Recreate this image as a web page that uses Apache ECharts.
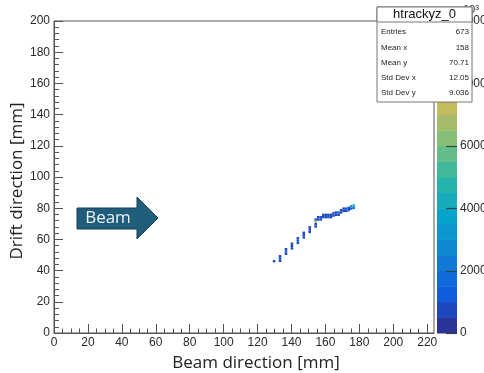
<!DOCTYPE html>
<html>
<head>
<meta charset="utf-8">
<script src="https://cdn.jsdelivr.net/npm/echarts@6/dist/echarts.min.js"></script>
<style>
  html, body { margin: 0; padding: 0; background: #ffffff; }
  #chart { width: 484px; height: 373px; }
</style>
</head>
<body>
<div id="chart"></div>
<script>
// Filled bins of htrackyz_0: bin centre along the beam (mm), along the drift (mm), bin content
const cellBeam = [
  129.75,
  133.25, 133.25, 133.25,
  136.75, 136.75, 136.75,
  140.25, 140.25, 140.25,
  143.75, 143.75, 143.75,
  147.25, 147.25, 147.25,
  150.75, 150.75, 150.75,
  154.25, 154.25, 154.25, 154.25,
  155.75, 155.75, 157.25, 157.25,
  158.75, 158.75, 160.25, 160.25, 161.75, 161.75, 163.25, 163.25, 164.75, 164.75,
  166.25, 166.25, 167.75, 167.75,
  169.25, 169.25, 170.75, 170.75, 172.25, 172.25, 173.75, 173.75,
  175.25, 175.25, 176.75, 176.75
];
const cellDrift = [
  46.0,
  46.25, 47.75, 49.25,
  50.75, 52.25, 53.75,
  54.25, 55.75, 57.25,
  57.75, 59.25, 60.75,
  61.25, 62.75, 64.25,
  64.75, 66.25, 67.75,
  68.25, 69.75, 71.25, 72.75,
  72.75, 74.25, 72.75, 74.25,
  74.25, 75.75, 74.25, 75.75, 74.25, 75.75, 74.25, 75.75, 75.25, 76.75,
  75.75, 77.25, 75.75, 77.25,
  77.25, 78.75, 78.25, 79.75, 78.25, 79.75, 78.75, 80.25,
  79.75, 81.25, 80.25, 81.75
];
const cellCount = [
  900,
  800, 900, 800,
  900, 1000, 800,
  800, 900, 900,
  900, 1000, 800,
  800, 900, 900,
  900, 800, 900,
  800, 900, 7400, 1200,
  900, 800, 900, 1000,
  800, 900, 900, 800, 1000, 900, 800, 900, 900, 800,
  900, 800, 900, 1000,
  800, 900, 900, 800, 900, 1000, 1100, 900,
  1400, 2600, 2200, 4300
];
const BIN_W = 1.5;
const BIN_H = 1.5;

// Axis ticks
const xMajor = [0, 20, 40, 60, 80, 100, 120, 140, 160, 180, 200, 220];
const yMajor = [0, 20, 40, 60, 80, 100, 120, 140, 160, 180, 200];
const zMajor = [0, 2000, 4000, 6000, 8000, 10000];
const X_MAX = 224, Y_MAX = 200, Z_MAX = 10000, N_CONTOURS = 20;

// Statistics box
const statTitle = 'htrackyz_0';
const statNames = ['Entries', 'Mean x', 'Mean y', 'Std Dev x', 'Std Dev y'];
const statValues = ['673', '158', '70.71', '12.05', '9.036'];

// minor ticks on the beam axis: 4 per major interval
const xMinor = [];
for (let i = 0; i < xMajor.length; i++) {
  for (let k = 1; k < 4; k++) {
    const v = xMajor[i] + k * 5;
    if (v < X_MAX) xMinor.push(v);
  }
}

// kBird colour table, banded into contour levels
const birdStops = [0, 0.125, 0.25, 0.375, 0.5, 0.625, 0.75, 0.875, 1];
const birdR = [0.2082, 0.0592, 0.0780, 0.0232, 0.1802, 0.5301, 0.8186, 0.9956, 0.9764];
const birdG = [0.1664, 0.3599, 0.5041, 0.6419, 0.7178, 0.7492, 0.7328, 0.7862, 0.9832];
const birdB = [0.5293, 0.8684, 0.8385, 0.7914, 0.6425, 0.4662, 0.3499, 0.1968, 0.0539];
function birdColor(t) {
  t = Math.max(0, Math.min(1, t));
  let i = 0;
  while (i < birdStops.length - 2 && t > birdStops[i + 1]) i++;
  const f = (t - birdStops[i]) / (birdStops[i + 1] - birdStops[i]);
  const c = (a) => Math.round(255 * (a[i] + (a[i + 1] - a[i]) * f));
  return 'rgb(' + c(birdR) + ',' + c(birdG) + ',' + c(birdB) + ')';
}
const bandSize = Z_MAX / N_CONTOURS;
function levelColor(v) {
  const band = Math.min(N_CONTOURS - 1, Math.floor(v / bandSize));
  return birdColor((band + 0.5) / N_CONTOURS);
}
const paletteLevels = [];
for (let i = 0; i < N_CONTOURS; i++) paletteLevels.push([i * bandSize, (i + 1) * bandSize]);

const cells = cellBeam.map((x, i) => [x, cellDrift[i], cellCount[i]]);

const tickFont = 'Liberation Sans, Arial, sans-serif';
const titleFont = 'Open Sans, sans-serif';
const ink = '#2a2a2a';

const chart = echarts.init(document.getElementById('chart'), null, { renderer: 'canvas' });

// statistics box elements
const STAT_Z = 200;
const statChildren = [
  { type: 'rect', z: STAT_Z, shape: { x: 0, y: 0, width: 95, height: 95 },
    style: { fill: '#ffffff', stroke: '#777', lineWidth: 1 } },
  { type: 'rect', z: STAT_Z + 1, shape: { x: 0, y: 0, width: 95, height: 15 },
    style: { fill: '#ffffff', stroke: '#777', lineWidth: 1 } },
  { type: 'text', z: STAT_Z + 2, x: 47.5, y: 7.5,
    style: { text: statTitle, font: '13px ' + tickFont, fill: '#111', align: 'center', verticalAlign: 'middle' } }
];
statNames.forEach((name, i) => {
  const yy = 25 + i * 15.3;
  statChildren.push({ type: 'text', z: STAT_Z + 2, x: 4, y: yy,
    style: { text: name, font: '8px ' + tickFont, fill: '#222', align: 'left', verticalAlign: 'middle' } });
  statChildren.push({ type: 'text', z: STAT_Z + 2, x: 92, y: yy,
    style: { text: statValues[i], font: '8px ' + tickFont, fill: '#222', align: 'right', verticalAlign: 'middle' } });
});

const option = {
  backgroundColor: '#ffffff',
  animation: false,
  grid: [
    { left: 54, top: 21, width: 380, height: 312, show: true, borderColor: '#555', borderWidth: 1,
      backgroundColor: 'transparent', outerBoundsMode: 'none', containLabel: false },
    { left: 437, top: 21, width: 20, height: 312, show: false, outerBoundsMode: 'none', containLabel: false }
  ],
  xAxis: [
    {
      gridIndex: 0, type: 'value', min: 0, max: X_MAX, position: 'bottom',
      axisLine: { show: true, lineStyle: { color: '#555', width: 1 } },
      axisTick: { show: true, inside: true, length: 9, customValues: xMajor, lineStyle: { color: '#555' } },
      axisLabel: { show: true, customValues: xMajor, margin: 4, fontSize: 12, color: ink, fontFamily: tickFont },
      splitLine: { show: false }
    },
    {
      gridIndex: 0, type: 'value', min: 0, max: X_MAX, position: 'bottom',
      axisLine: { show: false },
      axisTick: { show: true, inside: true, length: 4.5, customValues: xMinor, lineStyle: { color: '#555' } },
      axisLabel: { show: false },
      splitLine: { show: false }
    },
    { gridIndex: 1, type: 'value', min: 0, max: 1, show: false }
  ],
  yAxis: [
    {
      gridIndex: 0, type: 'value', min: 0, max: Y_MAX, interval: 20,
      axisLine: { show: true, lineStyle: { color: '#555', width: 1 } },
      axisTick: { show: true, inside: true, length: 9, lineStyle: { color: '#555' } },
      minorTick: { show: true, splitNumber: 5, length: 5, lineStyle: { color: '#555' } },
      axisLabel: { margin: 4, fontSize: 12, color: ink, fontFamily: tickFont },
      splitLine: { show: false }
    },
    {
      gridIndex: 1, type: 'value', min: 0, max: Z_MAX, interval: 2000, position: 'right',
      axisLine: { show: false },
      axisTick: { show: false },
      axisLabel: { margin: 3, fontSize: 12, color: ink, fontFamily: tickFont,
        customValues: zMajor, formatter: (v) => String(v) },
      splitLine: { show: false }
    }
  ],
  series: [
    {
      type: 'custom',
      xAxisIndex: 0, yAxisIndex: 0,
      data: cells,
      clip: true,
      renderItem: function (params, api) {
        const x = api.value(0), y = api.value(1), z = api.value(2);
        const p0 = api.coord([x - BIN_W / 2, y + BIN_H / 2]);
        const p1 = api.coord([x + BIN_W / 2, y - BIN_H / 2]);
        return {
          type: 'rect',
          shape: { x: p0[0], y: p0[1], width: p1[0] - p0[0], height: p1[1] - p0[1] },
          style: { fill: levelColor(z) }
        };
      }
    },
    {
      // colour scale bands
      type: 'custom',
      xAxisIndex: 2, yAxisIndex: 1,
      data: paletteLevels,
      z: 1,
      renderItem: function (params, api) {
        const lo = api.value(0), hi = api.value(1);
        const p0 = api.coord([0, hi]);
        const p1 = api.coord([1, lo]);
        return {
          type: 'rect',
          shape: { x: p0[0], y: p0[1], width: p1[0] - p0[0], height: p1[1] - p0[1] + 0.5 },
          style: { fill: levelColor((lo + hi) / 2) }
        };
      }
    },
    {
      // colour scale tick marks, drawn from the right edge into the bar
      type: 'custom',
      xAxisIndex: 2, yAxisIndex: 1,
      data: zMajor.map((v) => [1, v]),
      z: 3,
      renderItem: function (params, api) {
        const v = api.value(1);
        const a = api.coord([0.45, v]);
        const b = api.coord([1, v]);
        return {
          type: 'line',
          shape: { x1: a[0], y1: Math.round(a[1]) + 0.5, x2: b[0], y2: Math.round(b[1]) + 0.5 },
          style: { stroke: '#2d4a40', lineWidth: 1.2 }
        };
      }
    }
  ],
  graphic: [
    {
      type: 'text', x: 463, y: 4, z: 50,
      style: { text: '10³', font: '11px ' + tickFont, fill: ink }
    },
    {
      type: 'polygon', z: 60,
      shape: { points: [[77, 208], [137, 208], [137, 197], [158, 218], [137, 239], [137, 229], [77, 229]] },
      style: { fill: '#1f5e7b', stroke: '#163f54', lineWidth: 1 }
    },
    {
      type: 'text', x: 108, y: 218.5, z: 61,
      style: { text: 'Beam', font: '17px ' + titleFont, fill: '#eef3f5', align: 'center', verticalAlign: 'middle' }
    },
    {
      type: 'text', x: 256, y: 363, z: 60,
      style: { text: 'Beam direction [mm]', font: '17px ' + titleFont, fill: '#222', align: 'center', verticalAlign: 'middle' }
    },
    {
      type: 'text', x: 17, y: 181, rotation: Math.PI / 2, z: 60,
      style: { text: 'Drift direction [mm]', font: '17px ' + titleFont, fill: '#222', align: 'center', verticalAlign: 'middle' }
    },
    {
      type: 'group', x: 377, y: 7, z: STAT_Z,
      children: statChildren
    }
  ]
};

chart.setOption(option);
</script>
</body>
</html>
